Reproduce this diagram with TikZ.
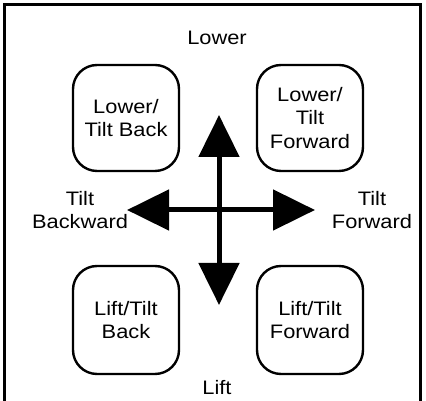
\documentclass[tikz,border=0pt]{standalone}
\usepackage{fontspec}
\setmainfont[FakeStretch=1.12]{Liberation Sans}
\usetikzlibrary{arrows.meta}
\tikzset{
  x=1pt, y=1pt,
  every node/.style={font=\fontsize{19.5}{23.5}\selectfont, align=center, inner sep=0pt},
  box/.style={draw, line width=2.4pt, rounded corners=24pt, minimum width=106pt, minimum height=106pt},
  bigarrow/.style={line width=5pt, {Triangle[width=40pt,length=42pt]}-{Triangle[width=40pt,length=42pt]}}
}
\begin{document}
\begin{tikzpicture}
\useasboundingbox (0,0) rectangle (426,401);
\draw[line width=3pt] (4,0) -- (4,396) -- (420,396) -- (420,0);
\node[box] (lowerback) at (126,283) {Lower/\\Tilt Back};
\node[box] (lowerfwd) at (310,283) {Lower/\\Tilt\\Forward};
\node[box, minimum height=108pt] (liftback) at (126,81) {Lift/Tilt\\Back};
\node[box, minimum height=108pt] (liftfwd) at (310,81) {Lift/Tilt\\Forward};
\node (lower) at (217,363) {Lower};
\node (lift) at (217,13) {Lift};
\node (back) at (80,191) {Tilt\\Backward};
\node (fwd) at (372,191) {Tilt\\Forward};
\coordinate (up) at (219,286);
\coordinate (down) at (219,96);
\coordinate (left) at (127,191);
\coordinate (right) at (315,191);
\draw[bigarrow] (down) -- (up);
\draw[bigarrow] (left) -- (right);
\end{tikzpicture}
\end{document}
